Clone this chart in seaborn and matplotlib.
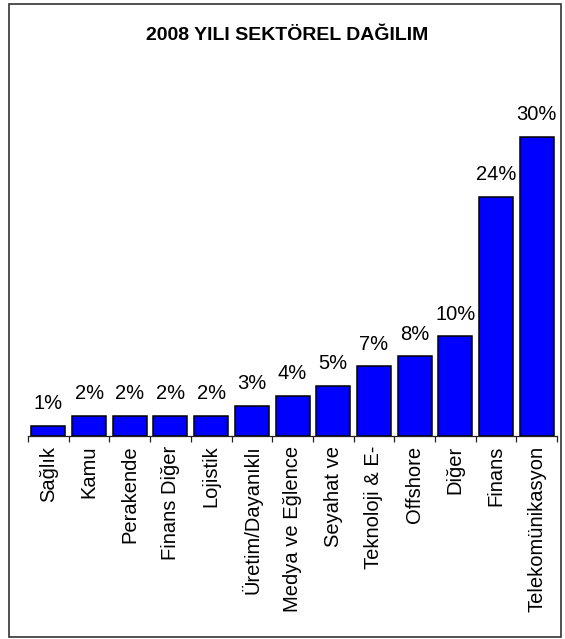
import matplotlib
matplotlib.use("Agg")
import matplotlib.pyplot as plt
from matplotlib.patches import Rectangle
import seaborn as sns
import pandas as pd
import numpy as np

# Sektör adları ve payları (%)
sektorler = ["Sağlık", "Kamu", "Perakende", "Finans Diğer", "Lojistik",
             "Üretim/Dayanıklı", "Medya ve Eğlence", "Seyahat ve",
             "Teknoloji & E-", "Offshore", "Diğer", "Finans", "Telekomünikasyon"]
paylar = [1, 2, 2, 2, 2, 3, 4, 5, 7, 8, 10, 24, 30]
etiketler = ["1%", "2%", "2%", "2%", "2%", "3%", "4%", "5%", "7%", "8%", "10%", "24%", "30%"]

df = pd.DataFrame({"sektor": sektorler, "pay": paylar})

sns.set_style("white")
plt.rcParams["font.family"] = ["Liberation Sans", "DejaVu Sans"]
plt.rcParams["text.color"] = "black"
plt.rcParams["xtick.color"] = "black"
plt.rcParams["xtick.labelcolor"] = "black"

fig = plt.figure(figsize=(5.65, 6.39), dpi=100)
ax = fig.add_axes([0.0496, 0.3177, 0.9364, 0.5258])

sns.barplot(data=df, x="sektor", y="pay", color="#0000FF", saturation=1,
            width=0.835, edgecolor="black", linewidth=1.1, ax=ax)

# yüzde etiketleri
for i, (v, t) in enumerate(zip(paylar, etiketler)):
    ax.annotate(t, (i, v), xytext=(0, 12), textcoords="offset points",
                ha="center", va="baseline", fontsize=14.5, color="black")

ax.set_xlim(-0.5, len(sektorler) - 0.5)
ax.set_ylim(0, 33.7)
ax.set_xlabel("")
ax.set_ylabel("")
ax.set_yticks([])
for s in ["left", "right", "top"]:
    ax.spines[s].set_visible(False)
ax.spines["bottom"].set_color("#222222")
ax.spines["bottom"].set_linewidth(0.9)

ax.set_xticks(range(len(sektorler)))
ax.set_xticklabels(sektorler, rotation=90, fontsize=14.5, va="top", ha="center", color="black")
ax.set_xticks(np.arange(-0.5, len(sektorler)), minor=True)
ax.tick_params(axis="x", which="major", length=0, pad=7)
ax.tick_params(axis="x", which="minor", length=4.5, width=0.9, color="#222222", direction="out", bottom=True)

fig.text(0.508, 0.945, "2008 YILI SEKTÖREL DAĞILIM", ha="center", va="center",
         fontsize=14, fontweight="bold", color="black")

# dış çerçeve
fig.patches.append(Rectangle((9 / 565, 2 / 639), 552 / 565, 633 / 639,
                             transform=fig.transFigure, fill=False,
                             edgecolor="#333333", linewidth=1.2))

fig.savefig("out.png", dpi=100)
